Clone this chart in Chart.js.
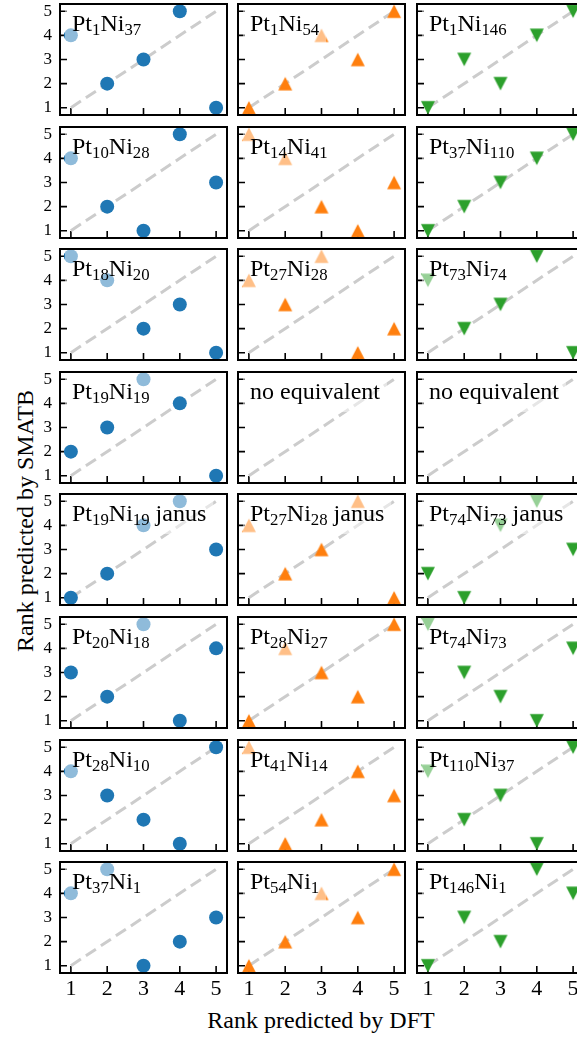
<!DOCTYPE html>
<html>
<head>
<meta charset="utf-8">
<script src="https://cdn.jsdelivr.net/npm/chart.js@4.4.1/dist/chart.umd.min.js"></script>
<style>
  html, body { margin: 0; padding: 0; background: #fff; }
  #fig { position: relative; width: 577px; height: 1037px; overflow: hidden; font-family: "Liberation Serif", serif; }
  #fig canvas { position: absolute; }
  .axis-title { position: absolute; font-size: 24px; white-space: nowrap; color: #000; line-height: 1; }
  #xTitle { left: 321px; top: 1008px; transform: translateX(-50%); }
  #yTitle { left: 25px; top: 521px; transform: translate(-50%, -50%) rotate(-90deg); }
</style>
</head>
<body>
<div id="fig">
  <div class="axis-title" id="xTitle">Rank predicted by DFT</div>
  <div class="axis-title" id="yTitle">Rank predicted by SMATB</div>
</div>
<script>
// ranks on the x axis (DFT) and shared tick values
const dftRank = [1, 2, 3, 4, 5];
const rankTicks = [1, 2, 3, 4, 5];

// left column: Pt/Ni 38-atom clusters (circles)
const circleLabels = ['Pt_1Ni_37', 'Pt_10Ni_28', 'Pt_18Ni_20', 'Pt_19Ni_19', 'Pt_19Ni_19 janus', 'Pt_20Ni_18', 'Pt_28Ni_10', 'Pt_37Ni_1'];
const circleRanks = [
    [4, 2, 3, 5, 1],
    [4, 2, 1, 5, 3],
    [5, 4, 2, 3, 1],
    [2, 3, 5, 4, 1],
    [1, 2, 4, 5, 3],
    [3, 2, 5, 1, 4],
    [4, 3, 2, 1, 5],
    [4, 5, 1, 2, 3]
];

// middle column: 55-atom clusters (up triangles)
const upLabels = ['Pt_1Ni_54', 'Pt_14Ni_41', 'Pt_27Ni_28', 'no equivalent', 'Pt_27Ni_28 janus', 'Pt_28Ni_27', 'Pt_41Ni_14', 'Pt_54Ni_1'];
const upRanks = [
    [1, 2, 4, 3, 5],
    [5, 4, 2, 1, 3],
    [4, 3, 5, 1, 2],
    null,
    [4, 2, 3, 5, 1],
    [1, 4, 3, 2, 5],
    [5, 1, 2, 4, 3],
    [1, 2, 4, 3, 5]
];

// right column: 147-atom clusters (down triangles)
const downLabels = ['Pt_1Ni_146', 'Pt_37Ni_110', 'Pt_73Ni_74', 'no equivalent', 'Pt_74Ni_73 janus', 'Pt_74Ni_73', 'Pt_110Ni_37', 'Pt_146Ni_1'];
const downRanks = [
    [1, 3, 2, 4, 5],
    [1, 2, 3, 4, 5],
    [4, 2, 3, 5, 1],
    null,
    [2, 1, 4, 5, 3],
    [5, 3, 2, 1, 4],
    [4, 2, 3, 1, 5],
    [1, 3, 2, 5, 4]
];

const PLOT_W = 167, PLOT_H = 111;
const colLeft = [60, 238, 417];
const rowTop = [4, 127, 249, 372, 494, 617, 740, 862];
const SERIF = '"Liberation Serif", "Times New Roman", serif';

function triangleMarker(color, up) {
    const c = document.createElement('canvas');
    c.width = 16; c.height = 16;
    const g = c.getContext('2d');
    g.fillStyle = color;
    g.beginPath();
    if (up) {
        g.moveTo(8, 1.3); g.lineTo(15, 14.7); g.lineTo(1, 14.7);
    } else {
        g.moveTo(8, 14.7); g.lineTo(15, 1.3); g.lineTo(1, 1.3);
    }
    g.closePath();
    g.fill();
    return c;
}

// inward ticks under the markers; frame and composition label (on a
// half-transparent white box) above them
const panelDecor = {
    id: 'panelDecor',
    beforeDatasetsDraw(chart) {
        const ctx = chart.ctx;
        const a = chart.chartArea;
        const xs = chart.scales.x, ys = chart.scales.y;
        ctx.save();
        ctx.strokeStyle = '#000';
        ctx.lineWidth = 1.6;
        ctx.beginPath();
        rankTicks.forEach(v => {
            const py = ys.getPixelForValue(v);
            ctx.moveTo(a.left, py);
            ctx.lineTo(a.left + 7, py);
            const px = xs.getPixelForValue(v);
            ctx.moveTo(px, a.bottom);
            ctx.lineTo(px, a.bottom - 7);
        });
        ctx.stroke();
        ctx.restore();
    },
    afterDatasetsDraw(chart, args, opts) {
        const ctx = chart.ctx;
        const a = chart.chartArea;
        ctx.save();

        const parts = opts.label.split(/_(\d+)/);
        const mainFont = '24px ' + SERIF;
        const subFont = '16.8px ' + SERIF;
        let w = 0;
        parts.forEach((p, i) => {
            ctx.font = i % 2 ? subFont : mainFont;
            w += ctx.measureText(p).width;
        });
        const tx = a.left + 12, ty = a.top + 27;
        ctx.fillStyle = 'rgba(255,255,255,0.5)';
        ctx.fillRect(tx - 7, a.top + 1, w + 14, 39);

        ctx.strokeStyle = '#000';
        ctx.lineWidth = 2;
        ctx.strokeRect(a.left, a.top, a.right - a.left, a.bottom - a.top);

        ctx.fillStyle = '#000';
        ctx.textBaseline = 'alphabetic';
        let cx = tx;
        parts.forEach((p, i) => {
            ctx.font = i % 2 ? subFont : mainFont;
            ctx.fillText(p, cx, i % 2 ? ty + 4 : ty);
            cx += ctx.measureText(p).width;
        });
        ctx.restore();
    }
};

function rankAxis(axis, show, size, fontSize, pad) {
    return {
        type: 'linear',
        min: 0.7,
        max: 5.3,
        display: show,
        afterBuildTicks: s => { s.ticks = rankTicks.map(v => ({ value: v })); },
        afterFit: s => {
            s.paddingTop = s.paddingBottom = s.paddingLeft = s.paddingRight = 0;
            const fixed = show ? size : 0;
            if (axis === 'y') s.width = fixed; else s.height = fixed;
        },
        grid: { display: false, drawTicks: false },
        border: { display: false },
        ticks: {
            color: '#000',
            padding: pad,
            autoSkip: false,
            maxRotation: 0,
            font: { family: SERIF, size: fontSize }
        }
    };
}

function addPanel(row, col, label, ranks, color, marker) {
    const padL = col === 0 ? 40 : 10;
    const padB = row === 7 ? 30 : 10;
    const canvas = document.createElement('canvas');
    canvas.width = padL + PLOT_W + 10;
    canvas.height = 10 + PLOT_H + padB;
    canvas.style.left = (colLeft[col] - padL) + 'px';
    canvas.style.top = (rowTop[row] - 10) + 'px';
    document.getElementById('fig').appendChild(canvas);

    const points = ranks ? dftRank.map((d, k) => ({ x: d, y: ranks[k] })) : [];
    new Chart(canvas.getContext('2d'), {
        type: 'scatter',
        data: {
            datasets: [
                {
                    data: points,
                    pointStyle: marker,
                    radius: 7,
                    backgroundColor: color,
                    borderWidth: 0,
                    order: 0,
                    clip: false
                },
                {
                    type: 'line',
                    data: [
                        { x: rankTicks[0], y: rankTicks[0] },
                        { x: rankTicks[rankTicks.length - 1], y: rankTicks[rankTicks.length - 1] }
                    ],
                    borderColor: '#cccccc',
                    borderWidth: 3,
                    borderDash: [12, 6],
                    pointRadius: 0,
                    order: 1,
                    clip: false
                }
            ]
        },
        options: {
            responsive: false,
            animation: false,
            events: [],
            layout: {
                padding: { left: col === 0 ? 0 : 10, right: 10, top: 10, bottom: row === 7 ? 0 : 10 }
            },
            plugins: {
                legend: { display: false },
                tooltip: { enabled: false },
                panelDecor: { label: label }
            },
            scales: {
                x: rankAxis('x', row === 7, 30, 22, 3),
                y: rankAxis('y', col === 0, 40, 17, 8)
            }
        },
        plugins: [panelDecor]
    });
}

const upMarker = triangleMarker('#ff7f0e', true);
const downMarker = triangleMarker('#2ca02c', false);

for (let r = 0; r < 8; r++) {
    addPanel(r, 0, circleLabels[r], circleRanks[r], '#1f77b4', 'circle');
    addPanel(r, 1, upLabels[r], upRanks[r], '#ff7f0e', upMarker);
    addPanel(r, 2, downLabels[r], downRanks[r], '#2ca02c', downMarker);
}
</script>
</body>
</html>
